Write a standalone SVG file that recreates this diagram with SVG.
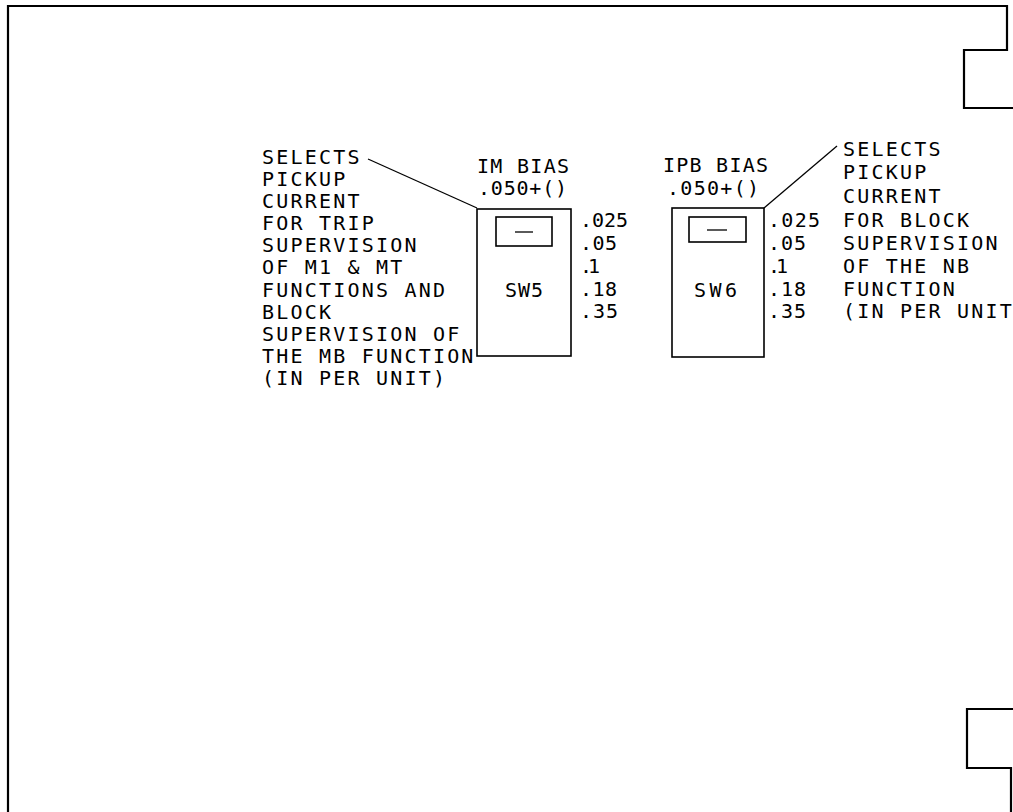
<svg xmlns="http://www.w3.org/2000/svg" width="1013" height="812" viewBox="0 0 1013 812">
<style>
.t{font-family:"DejaVu Sans Mono","Liberation Mono",monospace;font-size:20px;letter-spacing:2.2px;fill:#000}
.n{font-family:"DejaVu Sans Mono","Liberation Mono",monospace;font-size:20px;fill:#000}
.box{fill:none;stroke:#000;stroke-width:1.6}
.frame{fill:none;stroke:#000;stroke-width:2.2}
.ln{fill:none;stroke:#000;stroke-width:1.3}
</style>
<rect width="1013" height="812" fill="#fff"/>
<g id="frame">
<path class="frame" d="M8,812 V6 H1007 V50 H964 V108 H1013"/>
<path class="frame" d="M1013,709 H967 V768 H1011 V812"/>
</g>
<g id="note-left">
<text class="t" x="262" y="164">SELECTS</text>
<text class="t" x="262" y="186">PICKUP</text>
<text class="t" x="262" y="208">CURRENT</text>
<text class="t" x="262" y="230">FOR TRIP</text>
<text class="t" x="262" y="252">SUPERVISION</text>
<text class="t" x="262" y="274">OF M1 &amp; MT</text>
<text class="t" x="262" y="297">FUNCTIONS AND</text>
<text class="t" x="262" y="319">BLOCK</text>
<text class="t" x="262" y="341">SUPERVISION OF</text>
<text class="t" x="262" y="363">THE MB FUNCTION</text>
<text class="t" x="262" y="385">(IN PER UNIT)</text>
</g>
<g id="sw5">
<text class="n" x="477" y="173" textLength="92">IM BIAS</text>
<text class="n" x="478" y="195" textLength="89">.050+()</text>
<rect class="box" x="477" y="209" width="94" height="147"/>
<rect class="box" x="496" y="217" width="56" height="29"/>
<line class="ln" x1="515" y1="232" x2="533" y2="232"/>
<text class="n" x="505" y="297" textLength="38">SW5</text>
<text class="n" x="580" y="227" textLength="48">.025</text>
<text class="n" x="580" y="250" textLength="37">.05</text>
<text class="n" x="580" y="273" textLength="20">.1</text>
<text class="n" x="580" y="296" textLength="37">.18</text>
<text class="n" x="580" y="318" textLength="38">.35</text>
</g>
<g id="sw6">
<text class="n" x="663" y="172" textLength="105">IPB BIAS</text>
<text class="n" x="667" y="195" textLength="92">.050+()</text>
<rect class="box" x="672" y="208" width="92" height="149"/>
<rect class="box" x="689" y="217" width="57" height="25"/>
<line class="ln" x1="707" y1="230" x2="727" y2="230"/>
<text class="n" x="694" y="297" textLength="43">SW6</text>
<text class="n" x="768" y="227" textLength="52">.025</text>
<text class="n" x="768" y="250" textLength="38">.05</text>
<text class="n" x="768" y="273" textLength="20">.1</text>
<text class="n" x="768" y="296" textLength="38">.18</text>
<text class="n" x="768" y="318" textLength="38">.35</text>
</g>
<g id="note-right">
<text class="t" x="843" y="156">SELECTS</text>
<text class="t" x="843" y="179">PICKUP</text>
<text class="t" x="843" y="203">CURRENT</text>
<text class="t" x="843" y="227">FOR BLOCK</text>
<text class="t" x="843" y="250">SUPERVISION</text>
<text class="t" x="843" y="273">OF THE NB</text>
<text class="t" x="843" y="296">FUNCTION</text>
<text class="t" x="843" y="318">(IN PER UNIT)</text>
</g>
<g id="connectors">
<line class="ln" x1="368" y1="159" x2="477" y2="208"/>
<line class="ln" x1="764" y1="208" x2="837" y2="146"/>
</g>
</svg>
